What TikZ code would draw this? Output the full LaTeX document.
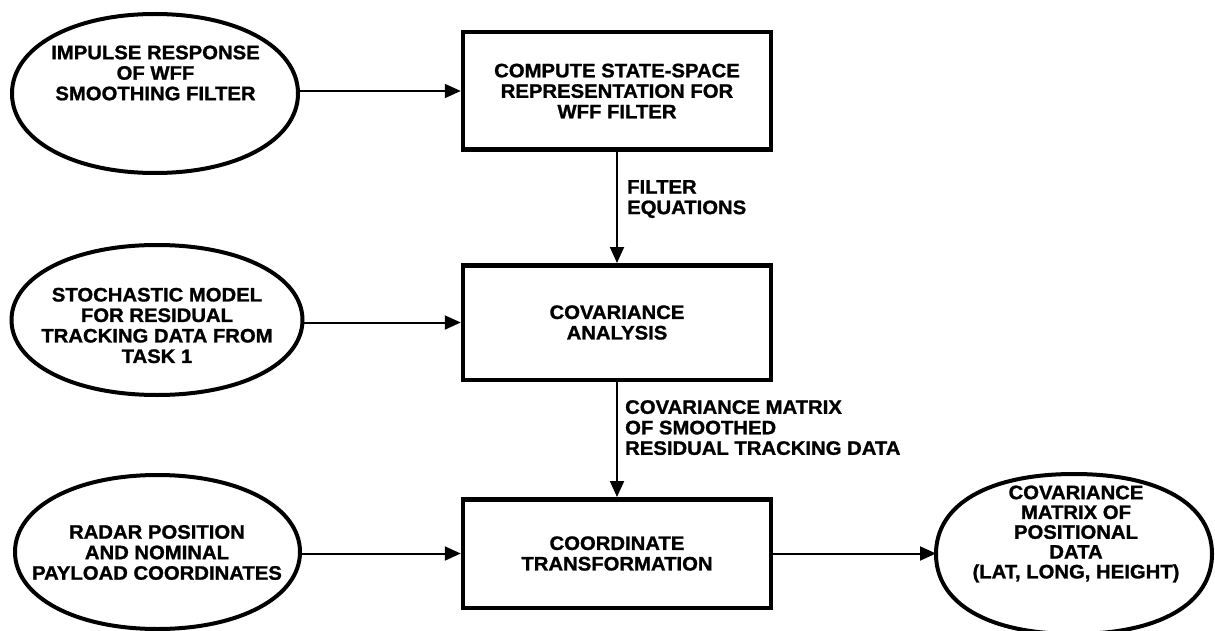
\documentclass[tikz,border=0pt]{standalone}
\usepackage{fontspec}
\setmainfont{Liberation Sans}[FakeStretch=1.04,BoldFeatures={FakeBold=1.2}]
\usetikzlibrary{shapes.geometric,arrows.meta,calc}
\begin{document}
\begin{tikzpicture}[x=1pt,y=-1pt,
  every node/.style={font=\bfseries\fontsize{19.5}{20.5}\selectfont},
  procbox/.style={draw,line width=4.5pt,minimum width=308pt,inner sep=0pt,align=center},
  source/.style={ellipse,inner sep=0pt,outer sep=0pt},
  rim/.style={line width=4pt},
  txt/.style={align=center,inner sep=0pt},
  lbl/.style={align=left,inner sep=0pt,anchor=north west},
  arr/.style={line width=2pt,-{Triangle[length=16pt,width=14pt]}}]
\useasboundingbox (0,0) rectangle (1215,631);

% a rounded oval, a little flatter than a true ellipse, traced round a node;
% the optional argument sets how square its shoulders are
\newcommand\ovalrim[2][0.58]{%
  \draw[rim] (#2.east)
    .. controls ($(#2.east)!#1!(#2.north -| #2.east)$) and ($(#2.north)!#1!(#2.north -| #2.east)$) .. (#2.north)
    .. controls ($(#2.north)!#1!(#2.north -| #2.west)$) and ($(#2.west)!#1!(#2.north -| #2.west)$) .. (#2.west)
    .. controls ($(#2.west)!#1!(#2.south -| #2.west)$) and ($(#2.south)!#1!(#2.south -| #2.west)$) .. (#2.south)
    .. controls ($(#2.south)!#1!(#2.south -| #2.east)$) and ($(#2.east)!#1!(#2.south -| #2.east)$) .. (#2.east)
    -- cycle;}

% processing steps
\node[procbox,minimum height=117.5pt] (b1) at (617,91)
  {COMPUTE STATE-SPACE\\REPRESENTATION FOR\\WFF FILTER};
\node[procbox,minimum height=114.5pt] (b2) at (617,322.5)
  {COVARIANCE\\ANALYSIS};
\node[procbox,minimum height=108.5pt] (b3) at (617,553.5)
  {COORDINATE\\TRANSFORMATION};

% inputs and output
\node[source,minimum width=286pt,minimum height=159pt] (e1) at (155,93.5) {};
\ovalrim{e1}
\node[txt] (e1t) at (155.5,73) {IMPULSE RESPONSE\\OF WFF\\SMOOTHING FILTER};

\node[source,minimum width=291pt,minimum height=150pt] (e2) at (157,320) {};
\ovalrim{e2}
\node[txt] (e2t) at (157,325.5) {STOCHASTIC MODEL\\FOR RESIDUAL\\TRACKING DATA FROM\\TASK 1};

\node[source,minimum width=285pt,minimum height=154pt] (e3) at (157.5,552) {};
\ovalrim{e3}
\node[txt] (e3t) at (157,552.5) {RADAR POSITION\\AND NOMINAL\\PAYLOAD COORDINATES};

\node[source,minimum width=276pt,minimum height=160pt] (e4) at (1074,554) {};
\ovalrim[0.62]{e4}
\node[txt,font=\bfseries\fontsize{19.5}{19.8}\selectfont] (e4t) at (1076,534)
  {COVARIANCE\\MATRIX OF\\POSITIONAL\\DATA\\(LAT, LONG, HEIGHT)};

% connectors
\draw[arr] (b1.west -| e1.east) -- (b1.west);
\draw[arr] (b2.west -| e2.east) -- (b2.west);
\draw[arr] (b3.west -| e3.east) -- (b3.west);
\draw[arr] (b3.east) -- (b3.east -| e4.west);
\draw[arr] (b1.south) -- (b2.north);
\draw[arr] (b2.south) -- (b3.north);

% connector labels
\node[lbl] (l1) at (627,180) {FILTER\\EQUATIONS};
\node[lbl] (l2) at (625,400) {COVARIANCE MATRIX\\OF SMOOTHED\\RESIDUAL TRACKING DATA};
\end{tikzpicture}
\end{document}
